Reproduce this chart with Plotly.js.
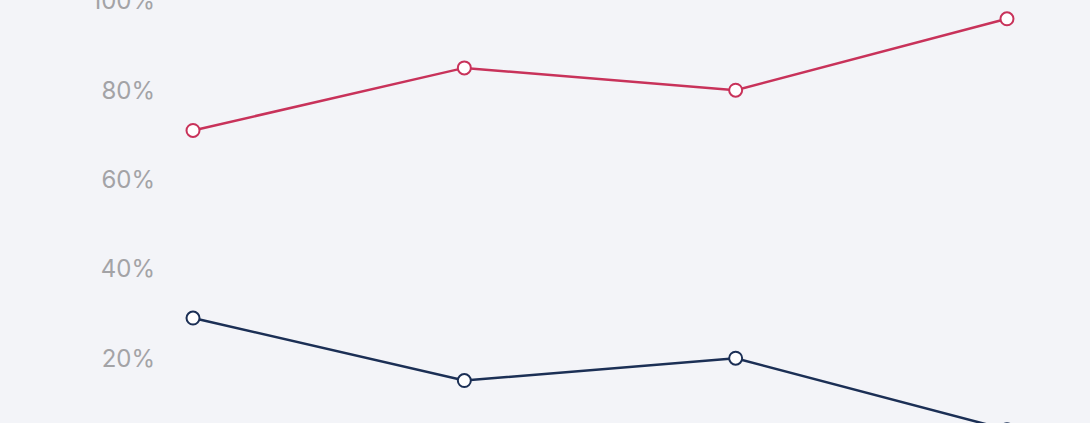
<!DOCTYPE html>
<html>
<head>
<meta charset="utf-8">
<script src="https://cdn.plot.ly/plotly-3.0.1.min.js"></script>
<style>
  html, body { margin: 0; padding: 0; background: #f3f4f8; overflow: hidden; }
  #chart { width: 1090px; height: 453px; margin-top: -30px; }
</style>
</head>
<body>
<div id="chart"></div>
<script>
// four periods, labels not visible in the crop
var periods = [0, 1, 2, 3];
var redShare = [71, 85, 80, 96];
var blueShare = [29, 15, 20, 4];
var yTicks = [20, 40, 60, 80, 100];
var yTickText = yTicks.map(function(v) { return v + '%'; });

function lineTrace(vals, color) {
    return {
        x: periods,
        y: vals,
        type: 'scatter',
        mode: 'lines+markers',
        line: { color: color, width: 2.5 },
        marker: { size: 13, color: '#ffffff', line: { color: color, width: 2 } },
        hoverinfo: 'skip'
    };
}

var data = [
    lineTrace(redShare, '#c8325a'),
    lineTrace(blueShare, '#1b2f55')
];

var layout = {
    width: 1090,
    height: 453,
    margin: { l: 163, r: 0, t: 20, b: 0 },
    paper_bgcolor: '#f3f4f8',
    plot_bgcolor: '#f3f4f8',
    showlegend: false,
    font: { family: 'Inter, Roboto, sans-serif', size: 24, color: '#a3a3a6' },
    xaxis: {
        range: [-0.1106, 3.306],
        visible: false,
        fixedrange: true
    },
    yaxis: {
        range: [5.5, 102.44],
        tickvals: yTicks,
        ticktext: yTickText,
        ticklabelstandoff: 7,
        showgrid: false,
        zeroline: false,
        showline: false,
        ticks: '',
        fixedrange: true
    }
};

Plotly.newPlot('chart', data, layout, { displayModeBar: false, staticPlot: true });
</script>
</body>
</html>
